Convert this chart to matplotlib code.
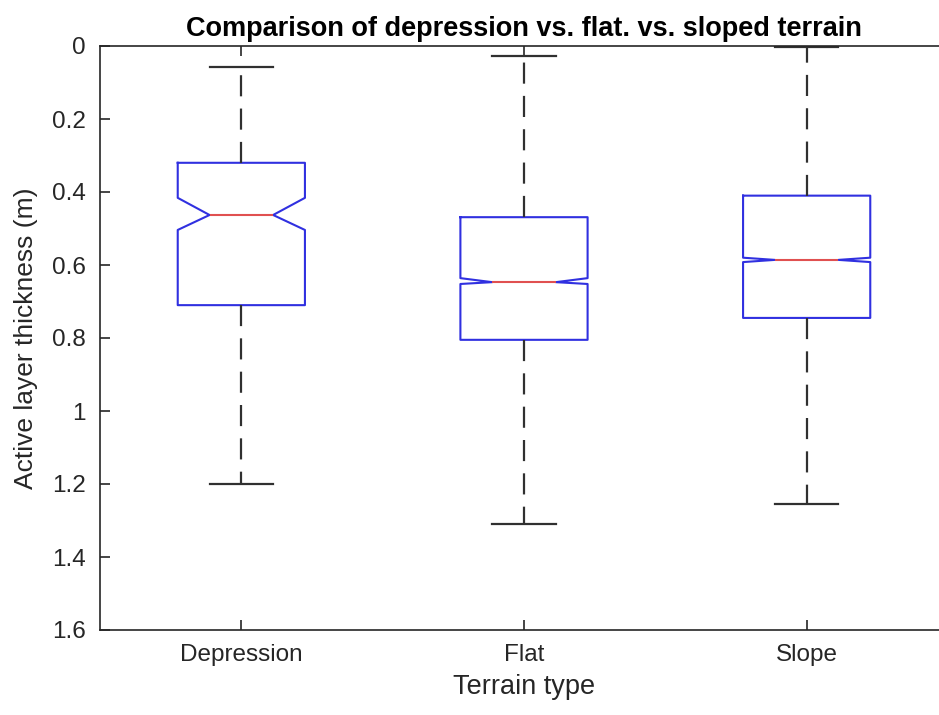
import matplotlib.pyplot as plt

plt.rcParams['font.family'] = ['Liberation Sans', 'DejaVu Sans']

# values (metres, depth increases downward)
terrain = ['Depression', 'Flat', 'Slope']
whisk_lo = [0.057, 0.027, 0.002]
q1 = [0.32, 0.469, 0.41]
median = [0.463, 0.647, 0.586]
notch_lo = [0.416, 0.636, 0.580]
notch_hi = [0.504, 0.652, 0.592]
q3 = [0.71, 0.805, 0.745]
whisk_hi = [1.20, 1.31, 1.255]

stats = []
for i in range(len(terrain)):
    stats.append(dict(label=terrain[i], whislo=whisk_lo[i], q1=q1[i], med=median[i],
                      q3=q3[i], whishi=whisk_hi[i], cilo=notch_lo[i], cihi=notch_hi[i],
                      fliers=[]))

fig = plt.figure(figsize=(9.39, 7.15), dpi=100)
ax = fig.add_axes([100 / 939, 1 - 630 / 715, 848 / 939, 584 / 715])

ax.bxp(stats, positions=[1, 2, 3], widths=0.45, shownotches=True,
       boxprops=dict(color='#3030e0', linewidth=1.5),
       medianprops=dict(color='#e05050', linewidth=1.5),
       whiskerprops=dict(color='#303030', linewidth=1.6, linestyle=(0, (9.5, 5.5))),
       capprops=dict(color='#303030', linewidth=1.6),
       showfliers=False)

ax.set_xlim(0.5, 3.5)
ax.set_ylim(1.6, 0)
ax.set_yticks([0, 0.2, 0.4, 0.6, 0.8, 1, 1.2, 1.4, 1.6])
ax.set_yticklabels(['0', '0.2', '0.4', '0.6', '0.8', '1', '1.2', '1.4', '1.6'])
ax.set_xticks([1, 2, 3])
ax.set_xticklabels(terrain)

ax.tick_params(direction='in', length=7, width=1.2, colors='#262626',
               labelsize=17.5, top=True, right=False, pad=10)
for s in ax.spines.values():
    s.set_color('#262626')
    s.set_linewidth(1.2)

ax.set_title('Comparison of depression vs. flat. vs. sloped terrain',
             fontsize=19.5, fontweight='bold', pad=7)
ax.set_ylabel('Active layer thickness (m)', fontsize=19, color='#262626', labelpad=10)
ax.set_xlabel('Terrain type', fontsize=19.5, color='#262626', labelpad=6)

fig.savefig('out.png', dpi=100)
